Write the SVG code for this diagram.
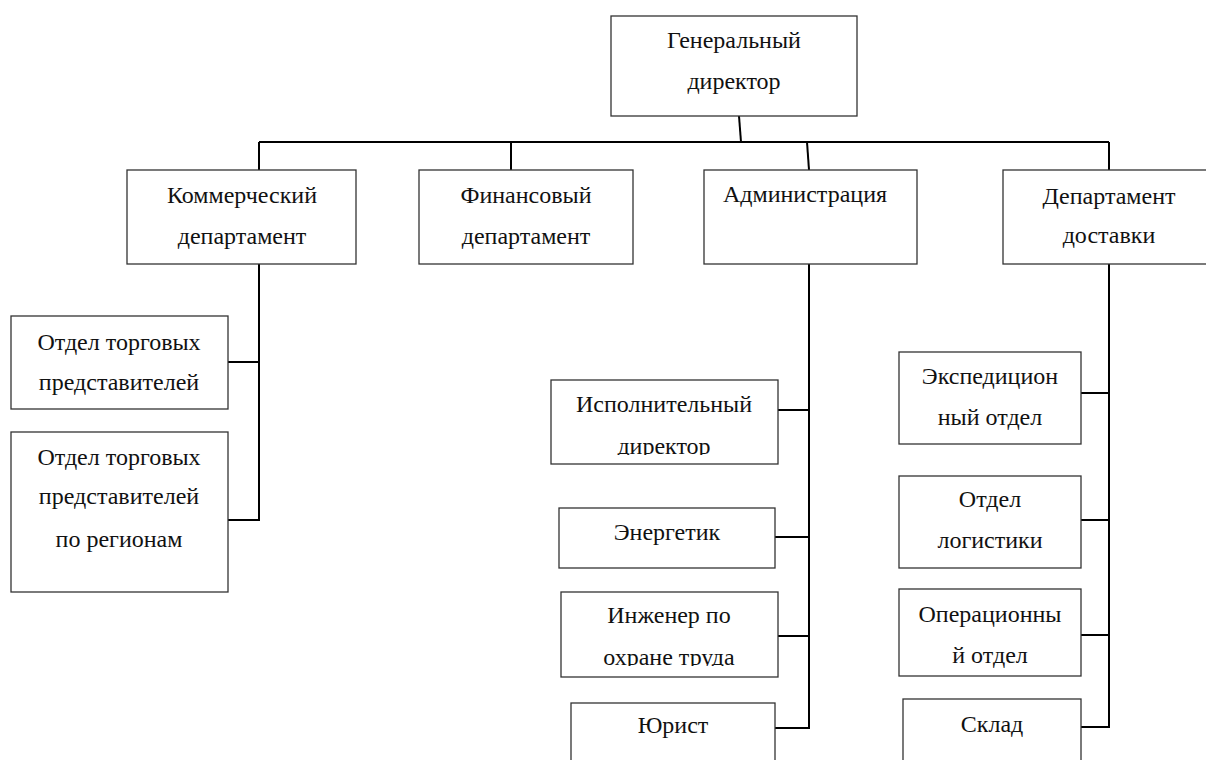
<svg xmlns="http://www.w3.org/2000/svg" width="1206" height="760" viewBox="0 0 1206 760">
<style>
.box{fill:#fff;stroke:#333;stroke-width:1.3}
.lbl{font-family:"Liberation Serif","Times New Roman",serif;font-size:24px;fill:#111;text-anchor:middle}
.con{stroke:#000;stroke-width:2;fill:none}
</style>
<defs>
<clipPath id="clipIsp"><rect x="540" y="370" width="250" height="85"/></clipPath>
<clipPath id="clipIng"><rect x="550" y="585" width="240" height="81"/></clipPath>
</defs>
<rect width="1206" height="760" fill="#fff"/>
<g id="connectors">
<path class="con" d="M739,116 L741,142"/>
<path class="con" d="M259,142 H1109"/>
<path class="con" d="M259,142 V170"/>
<path class="con" d="M511,142 V170"/>
<path class="con" d="M807,142 L809,170"/>
<path class="con" d="M1109,142 V170"/>
<path class="con" d="M259,264 V520 H228"/>
<path class="con" d="M259,362 H228"/>
<path class="con" d="M809,264 V728 H775"/>
<path class="con" d="M809,410 H778"/>
<path class="con" d="M809,537 H775"/>
<path class="con" d="M809,636 H778"/>
<path class="con" d="M1109,264 V727 H1081"/>
<path class="con" d="M1109,393 H1081"/>
<path class="con" d="M1109,520 H1081"/>
<path class="con" d="M1109,635 H1081"/>
</g>
<g id="gen-director">
<rect class="box" x="611" y="16" width="246" height="100"/>
<text class="lbl" x="734" y="48">Генеральный</text>
<text class="lbl" x="734" y="89">директор</text>
</g>
<g id="commercial">
<rect class="box" x="127" y="170" width="229" height="94"/>
<text class="lbl" x="242" y="203">Коммерческий</text>
<text class="lbl" x="242" y="244">департамент</text>
</g>
<g id="finance">
<rect class="box" x="419" y="170" width="214" height="94"/>
<text class="lbl" x="526" y="203">Финансовый</text>
<text class="lbl" x="526" y="244">департамент</text>
</g>
<g id="admin">
<rect class="box" x="704" y="170" width="213" height="94"/>
<text class="lbl" x="805" y="202">Администрация</text>
</g>
<g id="delivery">
<rect class="box" x="1003" y="170" width="212" height="94"/>
<text class="lbl" x="1109" y="204">Департамент</text>
<text class="lbl" x="1109" y="243">доставки</text>
</g>
<g id="sales-reps">
<rect class="box" x="11" y="316" width="217" height="93"/>
<text class="lbl" x="119" y="350">Отдел торговых</text>
<text class="lbl" x="119" y="390">представителей</text>
</g>
<g id="sales-regions">
<rect class="box" x="11" y="432" width="217" height="160"/>
<text class="lbl" x="119" y="465">Отдел торговых</text>
<text class="lbl" x="119" y="504">представителей</text>
<text class="lbl" x="119" y="547">по регионам</text>
</g>
<g id="exec-director">
<rect class="box" x="551" y="380" width="227" height="84"/>
<text class="lbl" x="664" y="412">Исполнительный</text>
<text class="lbl" x="664" y="454" clip-path="url(#clipIsp)">директор</text>
</g>
<g id="energetik">
<rect class="box" x="559" y="508" width="216" height="60"/>
<text class="lbl" x="667" y="540">Энергетик</text>
</g>
<g id="safety-engineer">
<rect class="box" x="561" y="592" width="217" height="85"/>
<text class="lbl" x="669" y="623">Инженер по</text>
<text class="lbl" x="669" y="665" clip-path="url(#clipIng)">охране труда</text>
</g>
<g id="lawyer">
<rect class="box" x="571" y="703" width="204" height="70"/>
<text class="lbl" x="673" y="733">Юрист</text>
</g>
<g id="expedition">
<rect class="box" x="899" y="352" width="182" height="92"/>
<text class="lbl" x="990" y="384">Экспедицион</text>
<text class="lbl" x="990" y="425">ный отдел</text>
</g>
<g id="logistics">
<rect class="box" x="899" y="476" width="182" height="92"/>
<text class="lbl" x="990" y="507">Отдел</text>
<text class="lbl" x="990" y="548">логистики</text>
</g>
<g id="operations">
<rect class="box" x="899" y="589" width="182" height="87"/>
<text class="lbl" x="990" y="622">Операционны</text>
<text class="lbl" x="990" y="663">й отдел</text>
</g>
<g id="warehouse">
<rect class="box" x="903" y="699" width="178" height="75"/>
<text class="lbl" x="992" y="732">Склад</text>
</g>
</svg>
